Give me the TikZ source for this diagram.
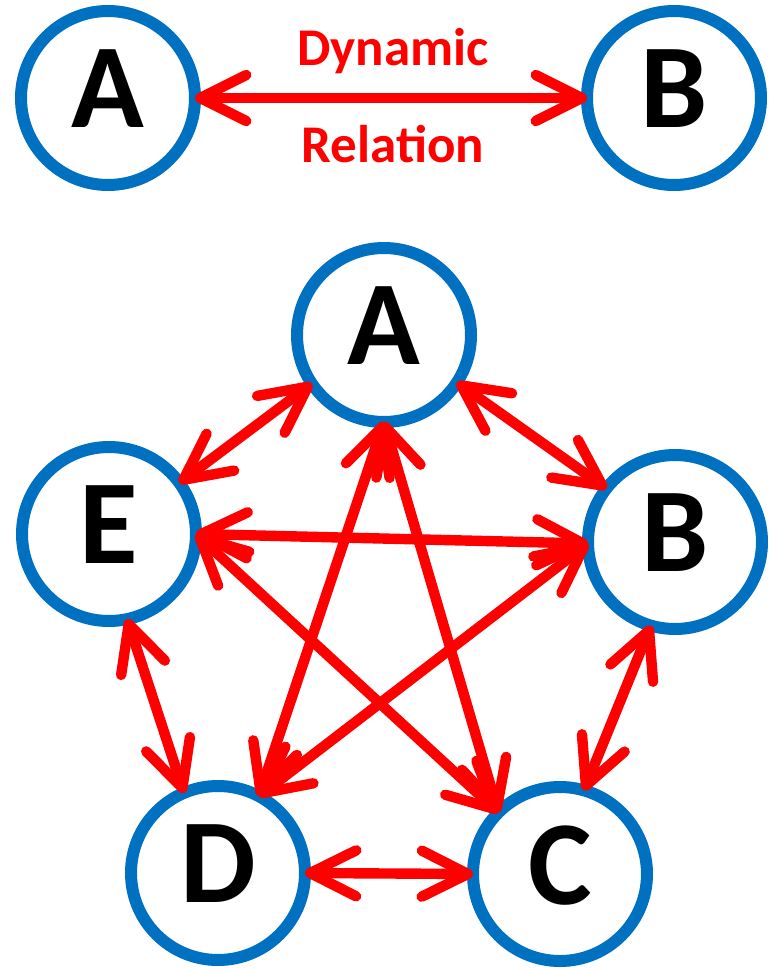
\documentclass[tikz,border=0pt]{standalone}
\usepackage{fontspec}
\setmainfont{Carlito}
\usetikzlibrary{arrows.meta}
\definecolor{ringblue}{RGB}{0,112,192}
\definecolor{relred}{RGB}{255,0,0}
\tikzset{
  vertex/.style={circle, draw=ringblue, line width=6pt, minimum size=87pt,
    inner sep=0pt, outer sep=0pt, text depth=9pt,
    font=\fontsize{60}{60}\selectfont\bfseries},
  reltext/.style={anchor=base, text=relred, font=\fontsize{26.5}{30}\selectfont\bfseries},
  barb/.tip={Straight Barb[length=23pt, width=23pt, round]},
  rel/.style={draw=relred, line width=5.2pt, barb-barb}
}
\begin{document}
\begin{tikzpicture}[x=0.5pt, y=-0.5pt]
      \useasboundingbox (0,0) rectangle (774,969);
      \draw
        (108,98) node[vertex] (A0){A}
        (674,98) node[vertex] (B0){B}
        (393,65) node[reltext] (dyn){Dynamic}
        (393,162) node[reltext] (relation){Relation};
      \draw
        (384,335) node[vertex] (A){A}
        (675,542) node[vertex] (B){B}
        (560,874) node[vertex] (C){C}
        (218,873) node[vertex] (D){D}
        (109,534) node[vertex] (E){E};
      \begin{scope}[rel]
        \draw (A0) to (B0);
        \draw (A.214) to (E.36);
        \draw (A.327) to (B.142);
        \draw (A.270) to (D.62);
        \draw (A.270) to (C.135);
        \draw (E.0) to (B.181);
        \draw (E.0) to (C.135);
        \draw (B.181) to (D.62);
        \draw (E.282) to (D.113);
        \draw (B.254) to (C.74);
        \draw (D.0) to (C.180);
      \end{scope}
    \end{tikzpicture}
\end{document}
